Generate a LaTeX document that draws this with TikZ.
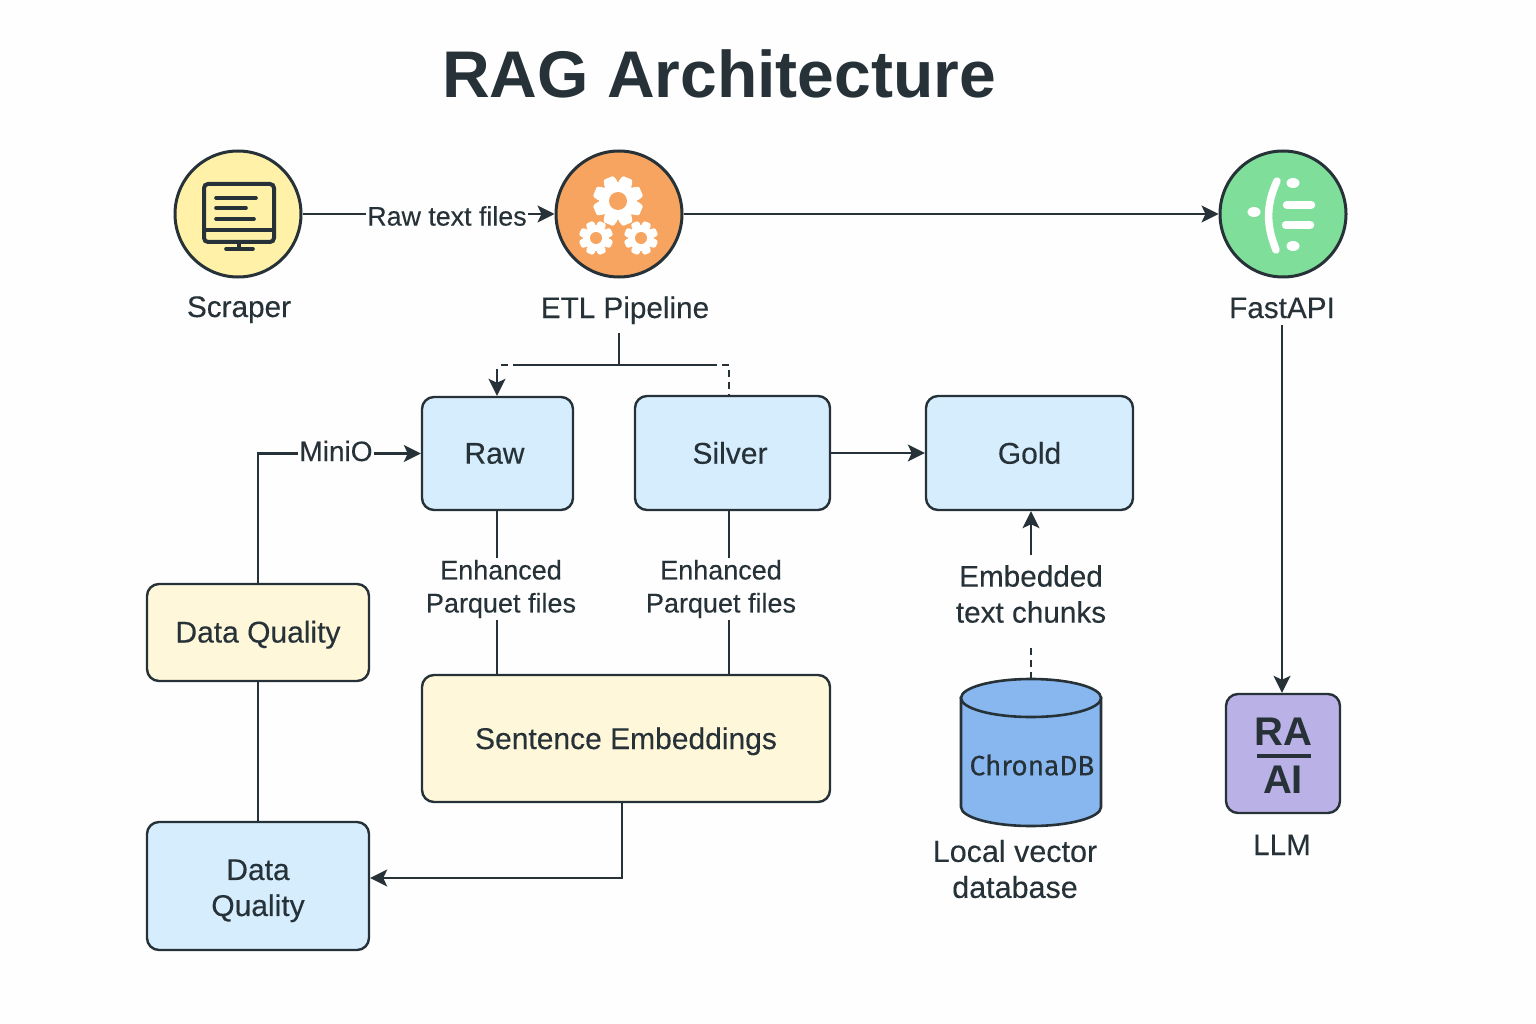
\documentclass[tikz,border=0pt]{standalone}
\usepackage{fontspec}
\setmainfont{Liberation Sans}
\newfontfamily\mediumfont[FakeBold=0.25]{Liberation Sans}
\newfontfamily\narrowfont[FakeBold=0.2]{Fira Sans}
\usetikzlibrary{arrows.meta,calc}
\definecolor{ink}{HTML}{263238}
\definecolor{pagecol}{HTML}{FEFEFE}
\definecolor{yellowc}{HTML}{FFF2A8}
\definecolor{orangec}{HTML}{F6A45F}
\definecolor{greenc}{HTML}{7FDF9A}
\definecolor{bluebox}{HTML}{D5EDFD}
\definecolor{creambox}{HTML}{FFF7D9}
\definecolor{purplec}{HTML}{BAB2E6}
\definecolor{dbblue}{HTML}{88B7F0}
\tikzset{
  x=1pt,y=-1pt,
  txt/.style={text=ink,font=\mediumfont\fontsize{28}{36}\selectfont,align=center,inner sep=0pt},
  captiontxt/.style={text=ink,font=\mediumfont\fontsize{29.7}{36}\selectfont,align=center,inner sep=0pt},
  edgetxt/.style={text=ink,font=\mediumfont\fontsize{26.8}{36}\selectfont,align=center,inner sep=0pt},
  smalltxt/.style={text=ink,font=\mediumfont\fontsize{27}{33}\selectfont,align=center,inner sep=0pt},
  logotxt/.style={text=ink,font=\fontsize{40}{50}\selectfont\bfseries,inner sep=0pt},
  iconcircle/.style={circle,draw=ink,line width=3pt,minimum size=126pt,inner sep=0pt},
  flowbox/.style={draw=ink,line width=2.4pt,rounded corners=12pt,inner sep=0pt,align=center,text=ink,font=\mediumfont\fontsize{30}{36}\selectfont},
  link/.style={draw=ink,line width=2.2pt},
  arrowlink/.style={link,-{Stealth[length=17pt,width=17pt,inset=4pt]}},
  dashlink/.style={link,dash pattern=on 7pt off 5pt},
  iconline/.style={draw=ink,line width=4pt,line cap=round},
  whiteicon/.style={fill=white,draw=none},
}
\newcommand{\boxat}[7]{\node[flowbox,fill=#1,minimum width=#4pt-#2pt,minimum height=#5pt-#3pt] (#6) at ({(#2+#4)/2},{(#3+#5)/2}) {#7};}
\newcommand{\gearicon}[4]{%
  \fill[whiteicon] (#1,#2) circle ({0.76*#3});
  \foreach \a in {0,45,...,315}{
    \fill[whiteicon,rotate around={\a+22.5:(#1,#2)},rounded corners=1.2pt]
      ({#1-0.29*#3},{#2-0.7*#3}) -- ({#1-0.21*#3},{#2-#3}) -- ({#1+0.21*#3},{#2-#3}) -- ({#1+0.29*#3},{#2-0.7*#3}) -- cycle;
  }
  \fill[orangec] (#1,#2) circle (#4);
}
\begin{document}
\begin{tikzpicture}
\useasboundingbox (0,0) rectangle (1536,1024);
\fill[pagecol] (0,0) rectangle (1536,1024);

\node[text=ink,inner sep=0pt,font=\fontsize{66}{80}\selectfont\bfseries] (title) at (719,74) {RAG Architecture};

% circles
\node[iconcircle,fill=yellowc] (scraper) at (238,214) {};
\node[iconcircle,fill=orangec] (etl) at (619,214) {};
\node[iconcircle,fill=greenc] (fastapi) at (1283,214) {};
\node[captiontxt,anchor=base] (scraperlabel) at (239,317) {Scraper};
\node[captiontxt,anchor=base] (etllabel) at (625,318) {ETL Pipeline};
\node[captiontxt,anchor=base] (fastapilabel) at (1282,318) {FastAPI};

% monitor icon
\draw[iconline,rounded corners=4pt] (204,184) rectangle (274,242);
\draw[draw=ink,line width=3.4pt] (204,230) -- (274,230);
\draw[iconline,line width=3.6pt] (216,198) -- (256,198);
\draw[iconline,line width=3.6pt] (216,208) -- (246,208);
\draw[iconline,line width=3.6pt] (216,219) -- (254,219);
\draw[draw=ink,line width=3.4pt] (239,242) -- (239,249);
\draw[iconline,line width=3.6pt] (226,249) -- (253,249);

% gears
\gearicon{618}{201}{25}{9}
\gearicon{596}{238}{17}{6}
\gearicon{641}{238}{17}{6}

% api icon
\fill[whiteicon] (1254,212) ellipse (6.5 and 5);
\fill[whiteicon] (1293,183) ellipse (6.5 and 5);
\fill[whiteicon] (1293,246) ellipse (6.5 and 5);
\draw[white,line width=7.5pt,line cap=round] (1277,181) .. controls (1266,205) and (1266,225) .. (1276,250);
\draw[white,line width=8.5pt,line cap=round] (1287,205) -- (1311,205);
\draw[white,line width=8.5pt,line cap=round] (1286,225) -- (1310,225);

% boxes
\boxat{bluebox}{422}{397}{573}{510}{raw}{\kern-6pt Raw}
\boxat{bluebox}{635}{396}{830}{510}{silver}{\kern-5pt Silver}
\boxat{bluebox}{926}{396}{1133}{510}{gold}{Gold}
\boxat{creambox}{147}{584}{369}{681}{dqyellow}{\raisebox{-10pt}[0pt][0pt]{Data Quality}}
\boxat{creambox}{422}{675}{830}{802}{embed}{\raisebox{-10.5pt}[0pt][0pt]{Sentence Embeddings}}
\boxat{bluebox}{147}{822}{369}{950}{dqblue}{\raisebox{-11pt}[0pt][0pt]{\begin{tabular}{@{}c@{}}Data\\Quality\end{tabular}}}
\boxat{purplec}{1226}{694}{1340}{813}{llm}{}
\node[logotxt] (ratext) at (1283,732) {RA};
\node[logotxt] (aitext) at (1283,780) {AI};
\draw[draw=ink,line width=4pt] (1257,756) -- (1311,756);
\node[captiontxt,anchor=base] (llmlabel) at (1282,855) {LLM};

% database
\node[minimum width=140pt,minimum height=147pt,inner sep=0pt] (chroma) at (1031,752.5) {};
\draw[draw=ink,fill=dbblue,line width=2.6pt]
  (961,698) -- (1101,698)
  -- (1101,807) arc[start angle=0,end angle=180,x radius=70,y radius=19] -- cycle;
\draw[draw=ink,fill=dbblue,line width=2.6pt] (1031,698) ellipse (70 and 19);
\node[text=ink,inner sep=0pt,font=\narrowfont\fontsize{28}{36}\selectfont] (chromatext) at (1032,765) {ChronaDB};
\node[captiontxt,font=\mediumfont\fontsize{30.5}{36}\selectfont] (dblabel) at (1015,869) {Local vector\\database};

% labelled connector texts
\node[edgetxt,fill=pagecol,inner xsep=1pt] (rawtext) at (447,216) {Raw text files};
\node[txt,fill=pagecol,inner xsep=1pt] (miniolabel) at (336,451) {MiniO};
\node[smalltxt,fill=pagecol,inner ysep=2pt] (parq1) at (501,589) {Enhanced\\Parquet files};
\node[smalltxt,fill=pagecol,inner ysep=2pt] (parq2) at (721,589) {Enhanced\\Parquet files};
\node[captiontxt] (chunks) at (1031,594) {Embedded\\text chunks};

% connectors
\draw[link] (scraper.east) -- (rawtext.west |- scraper.east);
\draw[arrowlink] (rawtext.east |- etl.west) -- (etl.west);
\draw[arrowlink] (etl.east) -- (fastapi.west);
\draw[arrowlink] (1282,325) -- (llm.north -| 1282,0);

\coordinate (branch) at (619,365);
\coordinate (branchL) at (520,365);
\coordinate (branchR) at (710,365);
\draw[link] (619,333) -- (branch);
\draw[link] (branchL) -- (branchR);
\draw[dashlink] (branchL) -- (501,365);
\draw[dashlink] (branchR) -- (729,365) -- (silver.north -| 729,0);
\draw[arrowlink] (497,369) -- (raw.north -| 497,0);

\draw[link] (dqyellow.north) -- (258,453.5) -- (miniolabel.west |- raw.west);
\draw[arrowlink] (miniolabel.east |- raw.west) -- (raw.west);
\draw[arrowlink] (silver.east) -- (gold.west);

\draw[link] (raw.south -| 497,0) -- (parq1.north -| 497,0);
\draw[link] (parq1.south -| 497,0) -- (embed.north -| 497,0);
\draw[link] (silver.south -| 729,0) -- (parq2.north -| 729,0);
\draw[link] (parq2.south -| 729,0) -- (embed.north -| 729,0);

\draw[arrowlink] (1031,555) -- (gold.south -| 1031,0);
\draw[dashlink] (chroma.north -| 1031,0) -- (1031,645);

\draw[link] (dqyellow.south) -- (dqblue.north);
\draw[arrowlink] (embed.south -| 622,0) -- (622,878) -- (dqblue.east |- 622,878);
\end{tikzpicture}
\end{document}
